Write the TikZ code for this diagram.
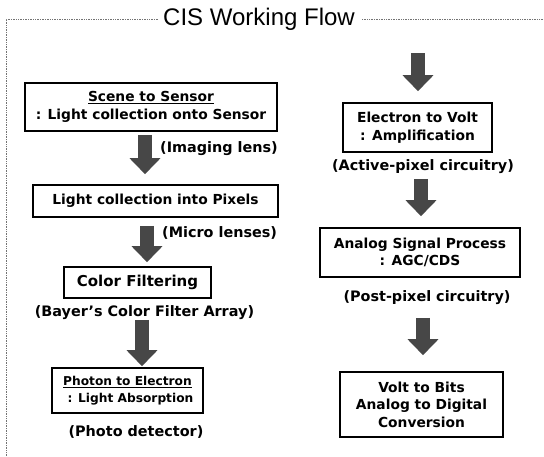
\documentclass[tikz,border=0pt]{standalone}
\usepackage{fontspec}
\setmainfont{DejaVu Sans}
\newfontfamily\titlefont{Liberation Sans}
\usetikzlibrary{arrows.meta}
\tikzset{
  flowbox/.style={draw=black, line width=1.6pt, align=center, inner sep=0pt,
    font=\fontsize{13.8}{17.5}\selectfont\bfseries},
  note/.style={font=\fontsize{14.4}{17}\selectfont\bfseries, inner sep=0pt},
  bigarrow/.style={draw=black!72, line width=14pt,
    -{Triangle[width=30pt,length=16pt,fill=black!72]}},
  frameline/.style={draw=black!55, line width=0.7pt, densely dotted}
}
\begin{document}
\begin{tikzpicture}[x=1pt,y=-1pt]
\useasboundingbox (0,0) rectangle (544,456);
% title and frame
\node[font=\titlefont\fontsize{24}{26}\selectfont, inner sep=0pt] (title) at (259,19) {CIS Working Flow};
\coordinate (fl) at (6,19);
\coordinate (fb) at (6,456);
\coordinate (fr) at (544,19);
\draw[frameline] (title.west |- fl) ++(-5,0) -- (fl) -- (fb);
\draw[frameline] (title.east |- fl) ++(7,0) -- (fr);
% left column
\node[flowbox, minimum width=252pt, minimum height=48pt] (b1) at (151,107)
  {\underline{Scene to Sensor}\\: Light collection onto Sensor};
\node[flowbox, minimum width=245pt, minimum height=32pt] (b2) at (155.5,201)
  {Light collection into Pixels};
\node[flowbox, minimum width=147pt, minimum height=31pt,
  font=\fontsize{15}{17.5}\selectfont\bfseries] (b3) at (137.5,282.5)
  {Color Filtering};
\node[flowbox, minimum width=151pt, minimum height=45pt,
  font=\fontsize{12.2}{17}\selectfont\bfseries] (b4) at (127.5,390.5)
  {\underline{Photon to Electron}\\\hspace*{6pt}: Light Absorption};
\node[note, anchor=west] (n1) at (160,149) {(Imaging lens)};
\node[note, anchor=west] (n2) at (162,233) {(Micro lenses)};
\node[note] (n3) at (144.5,313) {(Bayer’s Color Filter Array)};
\node[note] (n4) at (136,432) {(Photo detector)};
% right column
\coordinate (top) at (418,53);
\node[flowbox, minimum width=149pt, minimum height=49pt] (b5) at (417.5,127.5)
  {Electron to Volt\\: Amplification};
\node[flowbox, minimum width=200pt, minimum height=49pt] (b6) at (420,252.5)
  {Analog Signal Process\\: AGC/CDS};
\node[flowbox, minimum width=163pt, minimum height=65pt] (b7) at (421.5,404.5)
  {Volt to Bits\\Analog to Digital\\Conversion};
\node[note] (n5) at (423,167) {(Active-pixel circuitry)};
\node[note] (n6) at (427,298) {(Post-pixel circuitry)};
% arrows
\draw[bigarrow, shorten >=11pt] (top) -- (b5.north -| top);
\draw[bigarrow, shorten <=3pt, shorten >=10pt] (b1.south -| 145,0) -- (b2.north -| 145,0);
\draw[bigarrow, shorten <=8pt, shorten >=4pt] (b2.south -| 147,0) -- (b3.north -| 147,0);
\draw[bigarrow, shorten <=21pt, shorten >=1pt] (b3.south -| 142,0) -- (b4.north -| 142,0);
\draw[bigarrow, shorten <=26pt, shorten >=11pt] (b5.south -| 421,0) -- (b6.north -| 421,0);
\draw[bigarrow, shorten <=40pt, shorten >=16pt] (b6.south -| 423,0) -- (b7.north -| 423,0);
\end{tikzpicture}
\end{document}
